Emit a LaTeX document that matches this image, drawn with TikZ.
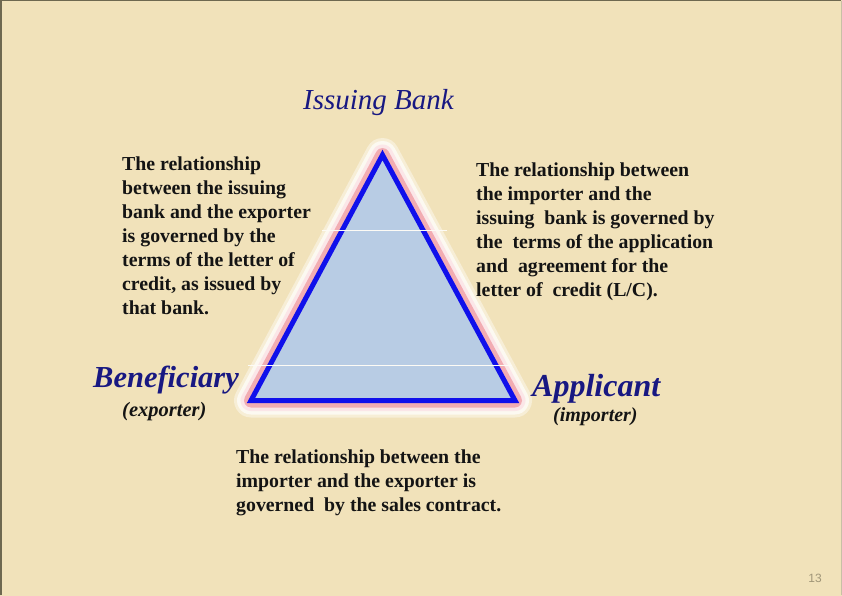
\documentclass[tikz,border=0pt]{standalone}
\usepackage{fontspec}
\setmainfont{Liberation Serif}
\newfontfamily\pagefont{Liberation Sans}
\definecolor{bg}{RGB}{241,226,186}
\definecolor{frame}{RGB}{110,104,80}
\definecolor{frameright}{RGB}{200,192,165}
\definecolor{navy}{RGB}{24,24,130}
\definecolor{triblue}{RGB}{16,16,235}
\definecolor{trifill}{RGB}{184,204,228}
\definecolor{glowpink}{RGB}{242,172,178}
\definecolor{inkblack}{RGB}{20,20,20}
\definecolor{pagegray}{RGB}{160,150,120}
\tikzset{
  bodytext/.style={inner sep=0pt, align=left, text=inkblack, anchor=north west,
    font=\bfseries\fontsize{19.8}{24}\selectfont},
  rolelabel/.style={inner sep=0pt, anchor=base west, text=navy},
  sublabel/.style={inner sep=0pt, anchor=base west, text=inkblack,
    font=\bfseries\itshape\selectfont},
  faintline/.style={draw=white!85!bg, line width=0.8pt},
  glow/.style={line join=round}
}
\begin{document}
\begin{tikzpicture}[x=1pt,y=-1pt]
\useasboundingbox (0,0) rectangle (842,596);
\fill[bg] (0,0) rectangle (842,596);
\coordinate (c00) at (0.75,595);
\coordinate (c01) at (0.75,0.75);
\coordinate (c11) at (841.4,0.75);
\coordinate (c10) at (841.4,595);
\draw[frame, line width=1.5pt] (c00) -- (c01) -- (c11);
\draw[frameright, line width=1pt] (c11) -- (c10);

% triangle
\coordinate (apex) at (382.5,155);
\coordinate (bl) at (251,400.5);
\coordinate (br) at (515,400.5);
\draw[glow, line width=34pt, white!40!bg] (apex) -- (bl) -- (br) -- cycle;
\draw[glow, line width=28pt, white!80!bg] (apex) -- (bl) -- (br) -- cycle;
\draw[glow, line width=21pt, glowpink!30!white] (apex) -- (bl) -- (br) -- cycle;
\draw[glow, line width=14pt, glowpink] (apex) -- (bl) -- (br) -- cycle;
\fill[trifill] (apex) -- (bl) -- (br) -- cycle;
\draw[line join=miter, line width=5pt, triblue] (apex) -- (bl) -- (br) -- cycle;

% faint horizontal lines
\coordinate (f1a) at (322,230);
\coordinate (f1b) at (447,230);
\coordinate (f2a) at (248,365);
\coordinate (f2b) at (512,365);
\draw[faintline] (f1a) -- (f1b);
\draw[faintline] (f2a) -- (f2b);

% titles
\node[inner sep=0pt, anchor=base, text=navy, font=\itshape\fontsize{29}{32}\selectfont] (issuing) at (378.5,110) {Issuing Bank};
\node[rolelabel, font=\bfseries\itshape\fontsize{30.5}{34}\selectfont] (benef) at (93,387) {Beneficiary};
\node[sublabel, font=\bfseries\itshape\fontsize{20.5}{24}\selectfont] (exporter) at (122,416) {(exporter)};
\node[rolelabel, font=\bfseries\itshape\fontsize{32}{36}\selectfont] (applicant) at (532,396) {Applicant};
\node[sublabel, font=\bfseries\itshape\fontsize{20}{24}\selectfont] (importer) at (553,421) {(importer)};

% body texts
\node[bodytext] (lefttext) at (122,157) {The relationship\\between the issuing\\bank and the exporter\\is governed by the\\terms of the letter of\\credit, as issued by\\that bank.};
\node[bodytext] (righttext) at (476,163) {The relationship between\\the importer and the\\issuing \ bank is governed by\\the \ terms of the application\\and \ agreement for the\\letter of \ credit (L/C).};
\node[bodytext] (bottomtext) at (236,450) {The relationship between the\\importer and the exporter is\\governed \ by the sales contract.};

\node[inner sep=0pt, anchor=base east, text=pagegray, font=\pagefont\fontsize{12}{14}\selectfont] (pagenum) at (822,582) {13};
\end{tikzpicture}
\end{document}
